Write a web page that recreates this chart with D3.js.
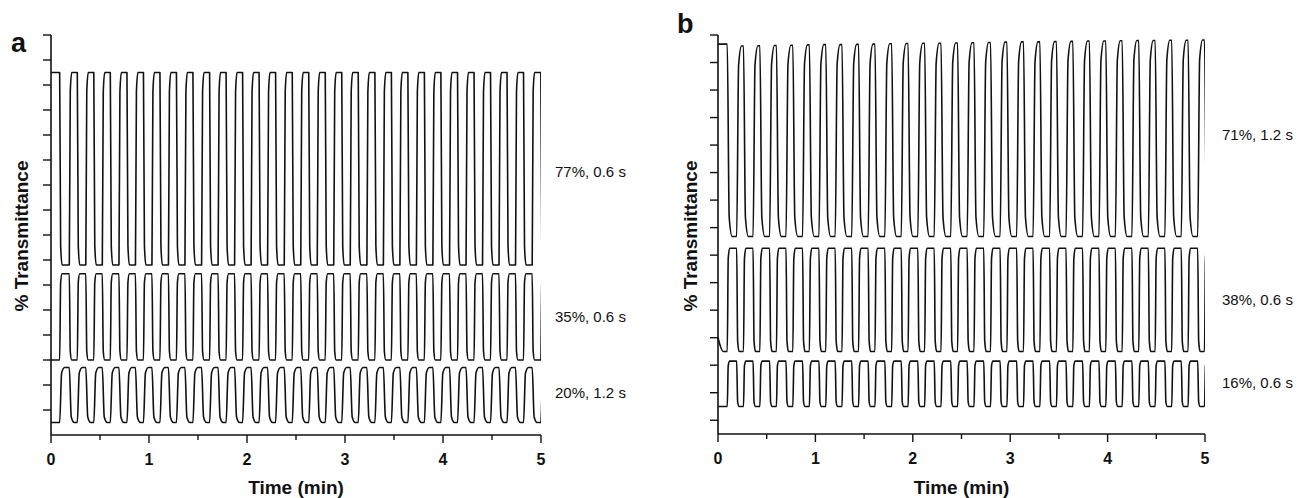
<!DOCTYPE html>
<html>
<head>
<meta charset="utf-8">
<script src="https://cdn.jsdelivr.net/npm/d3@7"></script>
<style>
  body { margin: 0; background: #fff; }
  svg text { font-family: "Liberation Sans", Arial, Helvetica, sans-serif; fill: #111; }
</style>
</head>
<body>
<svg id="chart" width="1309" height="498"></svg>
<script>
// ---- shared time axis (min) ----
const timeTicks = [0, 1, 2, 3, 4, 5];
const timeMinorTicks = [0.5, 1.5, 2.5, 3.5, 4.5];
const runEndSec = 300;

// ---- panel a: potential-step instants (s) ----
const switchA = [5.3,
  11.2, 16.1, 21.3, 26.2, 31.4, 36.3, 41.6, 46.5, 51.7, 56.6,
  61.8, 66.7, 71.9, 76.8, 82.0, 86.9, 92.2, 97.1, 102.3, 107.2,
  112.4, 117.3, 122.5, 127.4, 132.6, 137.5, 142.8, 147.7, 152.9, 157.8,
  163.0, 167.9, 173.1, 178.0, 183.2, 188.1, 193.4, 198.3, 203.5, 208.4,
  213.6, 218.5, 223.7, 228.6, 233.8, 238.7, 244.0, 248.9, 254.1, 259.0,
  264.2, 269.1, 274.3, 279.2, 284.4, 289.3, 294.6, 299.9];

// panel a traces: bleached / coloured plateau levels (% T, stacked offsets)
const a77Levels = [145, 68];
const a35Levels = [64.5, 30];
const a20Levels = [27, 5];
const a77StartsBleached = true;
const a35StartsBleached = false;
const a20StartsBleached = false;
const a77Resp = 0.6, a35Resp = 0.6, a20Resp = 1.2;
const panelALabels = ["77%, 0.6 s", "35%, 0.6 s", "20%, 1.2 s"];

// ---- panel b: potential-step instants (s) ----
const switchB = [5.7,
  11.5, 15.7, 21.6, 25.8, 31.8, 36.0, 41.9, 46.1, 52.1, 56.3,
  62.2, 66.4, 72.2, 76.4, 82.4, 86.6, 92.5, 96.7, 102.8, 107.0,
  112.9, 117.1, 123.1, 127.3, 133.2, 137.4, 143.4, 147.6, 153.5, 157.7,
  163.7, 167.9, 173.8, 178.0, 184.0, 188.2, 194.1, 198.3, 204.3, 208.5,
  214.4, 218.6, 224.6, 228.8, 234.7, 238.9, 244.8, 249.0, 255.0, 259.2,
  265.1, 269.3, 275.3, 279.5, 285.4, 289.6, 295.5, 299.7];

// b71: bleached peak per cycle drifts slightly upward over the run
const b71Peaks = [136.7, 136.0, 136.1, 136.2, 136.3, 136.4, 136.5, 136.5, 136.6, 136.7,
  136.8, 136.9, 137.0, 137.0, 137.1, 137.2, 137.3, 137.4, 137.5, 137.5,
  137.6, 137.7, 137.8, 137.8, 137.9, 138.0, 138.0, 138.1, 138.1, 138.2];
const b71Trough = 66.8;
const b38Levels = [62.5, 25];
const b38Onset = [[0, 30], [3.2, 25]];   // initial relaxation before the first step
const b16Levels = [21.5, 5];
const b71StartsBleached = true;
const b38StartsBleached = false;
const b16StartsBleached = false;
const b71Resp = 1.2, b38Resp = 0.6, b16Resp = 0.6;
const panelBLabels = ["71%, 1.2 s", "38%, 0.6 s", "16%, 0.6 s"];

// ---- helpers ----
const svg = d3.select("#chart");

// plateau sequence for a two-state trace
function plateauSeq(nSwitch, startsBleached, peakAt, trough) {
  const seq = [];
  let k = 0;
  for (let i = 0; i <= nSwitch; i++) {
    const bleached = (i % 2 === 0) === startsBleached;
    if (bleached) { seq.push(peakAt(k)); k++; } else seq.push(trough);
  }
  return seq;
}

// key points of a step response: switch instant, 90% point at the response time, settled plateau
function stepPoints(switches, levels, resp, onset) {
  const pts = onset ? onset.map(d => d.slice()) : [[0, levels[0]]];
  switches.forEach((ts, i) => {
    const a = levels[i], b = levels[i + 1];
    pts.push([ts, a]);
    pts.push([ts + resp, a + 0.9 * (b - a)]);
    pts.push([ts + 2.5 * resp, b]);
  });
  const last = pts[pts.length - 1];
  if (last[0] < runEndSec + 3) pts.push([runEndSec + 3, levels[levels.length - 1]]);
  return pts;
}

function drawPanel(cfg) {
  const g = svg.append("g");
  const x = d3.scaleLinear().domain([0, 5]).range([cfg.x0, cfg.x1]);
  const y = d3.scaleLinear().domain(cfg.yDomain).range([cfg.yBottom, cfg.yTop]);

  // axes
  g.append("line").attr("x1", cfg.x0).attr("x2", cfg.x0).attr("y1", cfg.yBottom).attr("y2", cfg.yTop)
    .attr("stroke", "#111").attr("stroke-width", 1.6);
  g.append("line").attr("x1", cfg.x0).attr("x2", cfg.x1).attr("y1", cfg.yBottom).attr("y2", cfg.yBottom)
    .attr("stroke", "#111").attr("stroke-width", 1.6);

  g.selectAll(".yt").data(cfg.yTicks).enter().append("line")
    .attr("x1", cfg.x0 - 8).attr("x2", cfg.x0)
    .attr("y1", d => y(d)).attr("y2", d => y(d))
    .attr("stroke", "#111").attr("stroke-width", 1.4);

  g.selectAll(".xt").data(timeTicks).enter().append("line")
    .attr("x1", d => x(d)).attr("x2", d => x(d))
    .attr("y1", cfg.yBottom).attr("y2", cfg.yBottom + 8)
    .attr("stroke", "#111").attr("stroke-width", 1.4);
  g.selectAll(".xm").data(timeMinorTicks).enter().append("line")
    .attr("x1", d => x(d)).attr("x2", d => x(d))
    .attr("y1", cfg.yBottom).attr("y2", cfg.yBottom + 5)
    .attr("stroke", "#111").attr("stroke-width", 1.4);

  g.selectAll(".xl").data(timeTicks).enter().append("text")
    .attr("x", d => x(d)).attr("y", cfg.yBottom + 30)
    .attr("text-anchor", "middle").attr("font-size", 16).attr("font-weight", "bold")
    .text(d => d);

  g.append("text").attr("x", (cfg.x0 + cfg.x1) / 2).attr("y", 494)
    .attr("text-anchor", "middle").attr("font-size", 19).attr("font-weight", "bold")
    .text("Time (min)");

  g.append("text")
    .attr("transform", `translate(${cfg.yLabelX},236) rotate(-90)`)
    .attr("text-anchor", "middle").attr("font-size", 19).attr("font-weight", "bold")
    .text("% Transmittance");

  g.append("text").attr("x", cfg.letterX).attr("y", cfg.letterY)
    .attr("font-size", 27).attr("font-weight", "bold").text(cfg.letter);

  // traces, cut at the end of the 5 min run
  const clipId = "clip-" + cfg.letter;
  svg.append("clipPath").attr("id", clipId).append("rect")
    .attr("x", cfg.x0 - 2).attr("y", 0).attr("width", cfg.x1 - cfg.x0 + 2).attr("height", 498);

  const line = d3.line()
    .x(d => x(d[0] / 60))
    .y(d => y(d[1]))
    .curve(d3.curveMonotoneX);

  cfg.traces.forEach(tr => {
    const levels = plateauSeq(cfg.switches.length, tr.startsBleached, tr.peakAt, tr.trough);
    const pts = stepPoints(cfg.switches, levels, tr.resp, tr.onset);
    g.append("path").attr("d", line(pts))
      .attr("clip-path", `url(#${clipId})`)
      .attr("fill", "none").attr("stroke", "#111").attr("stroke-width", 1.6)
      .attr("stroke-linejoin", "round");
  });

  g.selectAll(".lab").data(cfg.labels).enter().append("text")
    .attr("x", cfg.labelX).attr("y", (d, i) => cfg.labelY[i])
    .attr("font-size", 15).text(d => d);
}

drawPanel({
  letter: "a", letterX: 11, letterY: 52,
  x0: 51, x1: 541, yTop: 35, yBottom: 435, yDomain: [0, 160],
  yTicks: d3.range(10, 161, 10), yLabelX: 28,
  switches: switchA,
  traces: [
    { startsBleached: a77StartsBleached, peakAt: () => a77Levels[0], trough: a77Levels[1], resp: a77Resp },
    { startsBleached: a35StartsBleached, peakAt: () => a35Levels[0], trough: a35Levels[1], resp: a35Resp },
    { startsBleached: a20StartsBleached, peakAt: () => a20Levels[0], trough: a20Levels[1], resp: a20Resp }
  ],
  labels: panelALabels, labelX: 555, labelY: [177, 322, 398]
});

drawPanel({
  letter: "b", letterX: 677, letterY: 33,
  x0: 718, x1: 1205, yTop: 35, yBottom: 434, yDomain: [-5, 140],
  yTicks: d3.range(0, 141, 10), yLabelX: 697,
  switches: switchB,
  traces: [
    { startsBleached: b71StartsBleached, peakAt: k => b71Peaks[Math.min(k, b71Peaks.length - 1)], trough: b71Trough, resp: b71Resp },
    { startsBleached: b38StartsBleached, peakAt: () => b38Levels[0], trough: b38Levels[1], resp: b38Resp, onset: b38Onset },
    { startsBleached: b16StartsBleached, peakAt: () => b16Levels[0], trough: b16Levels[1], resp: b16Resp }
  ],
  labels: panelBLabels, labelX: 1222, labelY: [140, 305, 388]
});
</script>
</body>
</html>
